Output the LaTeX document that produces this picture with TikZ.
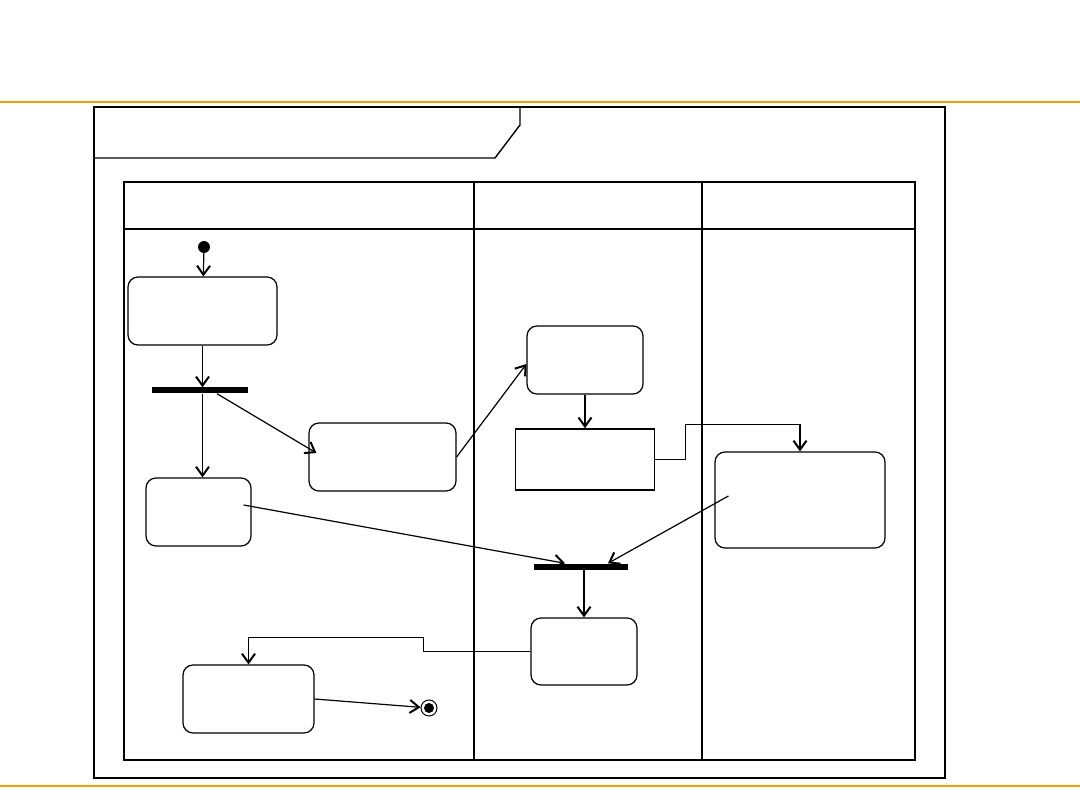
\documentclass[tikz,border=0pt]{standalone}
\usepackage{tikz}
\usetikzlibrary{arrows.meta, calc}
\definecolor{slideorange}{RGB}{245,158,11}

\begin{document}
\begin{tikzpicture}[
    x=1pt, y=-1pt,
    actbox/.style  = {draw, rounded corners=10pt, line width=1.2pt, fill=white,
                      inner sep=0pt},
    plainbox/.style = {draw, line width=1.6pt, fill=white, inner sep=0pt},
    barbox/.style  = {fill=black, inner sep=0pt, minimum height=6pt},
    arr/.style     = {-{Straight Barb[length=9pt, width=13pt, line width=2pt]}, line width=1.2pt},
    lane/.style    = {line width=1.8pt},
    framebox/.style = {line width=1.4pt},
    rule/.style    = {slideorange, line width=2pt},
]
\useasboundingbox (0,0) rectangle (1080,810);

% Slide rules
\draw[rule] (0,102) -- (1080,102);
\draw[rule] (0,786) -- (1080,786);

% Frame with name tab
\draw[framebox] (94,107) rectangle (945,778);
\draw[framebox] (94,158) -- (495,158) -- (520,125) -- (520,107);

% Swimlanes
\draw[lane] (124,182) rectangle (915,760);
\draw[lane] (124,229) -- (915,229);
\draw[lane] (474,182) -- (474,760);
\draw[lane] (702,182) -- (702,760);

% Start and end
\node[circle, fill=black, inner sep=0pt, minimum size=12pt] (start) at (204,247) {};
\node[circle, draw, line width=1pt, inner sep=0pt, minimum size=16pt] (final) at (429,708) {};
\fill (final) circle (5pt);

% Activities, left lane
\node[actbox, minimum width=149pt, minimum height=68pt] (A) at (202.5,311) {};
\node[barbox, minimum width=96pt] (fork) at (200,390.5) {};
\node[actbox, minimum width=105pt, minimum height=68pt] (C) at (198.5,512) {};
\node[actbox, minimum width=147pt, minimum height=68pt] (B) at (382.5,457) {};
\node[actbox, minimum width=131pt, minimum height=68pt] (H) at (248.5,699) {};

% Activities, middle lane
\node[actbox, minimum width=116pt, minimum height=68pt] (D) at (585,360) {};
\node[plainbox, minimum width=139pt, minimum height=61pt] (E) at (585,459.5) {};
\node[barbox, minimum width=94pt] (join) at (581,566.5) {};
\node[actbox, minimum width=106pt, minimum height=67pt] (G) at (584,651.5) {};

% Activities, right lane
\node[actbox, minimum width=170pt, minimum height=96pt] (F) at (800,500) {};

% Flows
\draw[arr] (start) -- (A);
\draw[arr] (A.south) -- (A.south |- fork.north);
\draw[arr] (A.south |- fork.south) -- (A.south |- C.north);
\draw[arr] ($(fork.south)+(17,0)$) -- ($(B.west)+(8,-4)$);
\draw[arr] (B.east) -- ($(D.west)+(0,4)$);
\draw[arr] (D.south) -- (E.north);
\draw[arr, line width=1.6pt] (E.east) -- ++(30,0) |- ($(F.north)+(0,-27)$) -- (F.north);
\draw[arr] ($(C.east)+(-8,-7)$) -- ($(join.north)+(-16,0)$);
\draw[arr] ($(F.west)+(14,-4)$) -- ($(join.north)+(27,0)$);
\draw[arr] (G.north |- join.south) -- (G.north);
\draw[arr] (G.west) -- ++(-107,0) -- ++(0,-14) -| (H.north);
\draw[arr] (H.east) -- (final);

\end{tikzpicture}
\end{document}
